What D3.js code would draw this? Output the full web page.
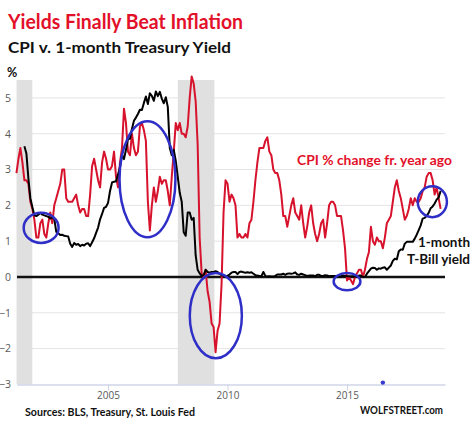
<!DOCTYPE html>
<html><head><meta charset="utf-8">
<script src="https://cdn.jsdelivr.net/npm/d3@7"></script>
<style>html,body{margin:0;padding:0;background:#fff;}svg{display:block;}</style>
</head><body>
<svg id="c" width="474" height="429"></svg>
<script>
// CPI YoY % change, monthly, Mar 2001 .. Dec 2018
const cpiStart = [2001, 3];
const cpiValues = [
  2.9,3.3,3.6,3.2,2.7,2.7,2.6,2.1,1.9,1.6,
  1.1,1.1,1.5,1.6,1.2,1.1,1.5,1.8,1.5,2.0,2.2,2.4,
  2.6,3.0,3.0,2.2,2.1,2.1,2.1,2.2,2.3,2.0,1.8,1.9,
  1.9,1.7,1.7,2.3,3.1,3.3,3.0,2.7,2.5,3.2,3.5,3.3,
  3.0,3.0,3.1,3.5,2.8,2.5,3.2,3.6,4.7,4.3,3.5,3.4,
  4.0,3.6,3.4,3.5,4.2,4.3,4.1,3.8,2.1,1.3,2.0,2.5,
  2.1,2.4,2.8,2.6,2.7,2.7,2.4,2.0,2.8,3.5,4.3,4.1,
  4.3,4.0,4.0,3.9,4.2,5.0,5.6,5.4,4.9,3.7,1.1,0.1,
  0.0,0.2,-0.4,-0.7,-1.3,-1.4,-2.1,-1.5,-1.3,-0.2,1.8,2.7,
  2.6,2.1,2.3,2.2,2.0,1.1,1.2,1.1,1.1,1.2,1.1,1.5,
  1.6,2.1,2.7,3.2,3.6,3.6,3.6,3.8,3.9,3.5,3.4,3.0,
  2.9,2.9,2.7,2.3,1.7,1.7,1.4,1.7,2.0,2.2,1.8,1.7,
  1.6,2.0,1.5,1.1,1.4,1.8,2.0,1.5,1.2,1.0,1.2,1.5,
  1.6,1.1,1.5,2.0,2.1,2.1,2.0,1.7,1.7,1.7,1.3,0.8,
  -0.1,0.0,-0.1,-0.2,0.0,0.1,0.2,0.2,0.0,0.2,0.5,0.7,
  1.4,1.0,0.9,1.1,1.0,1.0,0.8,1.1,1.5,1.6,1.7,2.1,
  2.5,2.7,2.4,2.2,1.9,1.6,1.7,1.9,2.2,2.0,2.2,2.1,
  2.1,2.2,2.4,2.5,2.8,2.9,2.9,2.7,2.3,2.5,2.2,1.9
];
// 1-month Treasury bill yield, monthly, Jul 2001 .. Dec 2018
const tbillStart = [2001, 7];
const tbillValues = [
  3.65,3.45,2.75,2.2,1.95,1.72,
  1.70,1.74,1.79,1.74,1.72,1.70,1.68,1.63,1.67,1.62,1.26,1.22,
  1.17,1.18,1.15,1.14,1.13,0.93,0.84,0.95,0.90,0.92,0.86,0.90,
  0.88,0.93,0.94,0.86,0.97,1.08,1.23,1.38,1.61,1.76,1.93,1.96,
  2.07,2.40,2.64,2.66,2.67,2.86,3.06,3.41,3.29,3.55,3.85,3.86,
  4.13,4.36,4.45,4.55,4.67,4.66,4.86,5.04,4.83,5.13,5.06,4.92,
  5.18,5.05,5.17,4.98,4.85,5.02,4.75,3.60,3.40,3.55,3.25,2.80,
  2.35,2.10,1.25,1.15,1.80,1.80,1.60,1.65,0.60,0.20,0.10,0.03,
  0.05,0.20,0.14,0.12,0.14,0.14,0.16,0.14,0.09,0.05,0.04,0.03,
  0.03,0.07,0.12,0.14,0.14,0.08,0.14,0.15,0.13,0.12,0.13,0.12,
  0.13,0.09,0.05,0.04,0.03,0.02,0.14,0.03,0.01,0.02,0.01,0.01,
  0.03,0.07,0.07,0.07,0.09,0.06,0.09,0.10,0.09,0.10,0.13,0.07,
  0.06,0.09,0.07,0.05,0.03,0.04,0.04,0.04,0.02,0.06,0.06,0.03,
  0.03,0.05,0.04,0.02,0.03,0.03,0.03,0.03,0.01,0.02,0.04,0.03,
  0.02,0.02,0.02,0.02,0.01,0.01,0.04,0.04,0.00,0.00,0.09,0.16,
  0.23,0.26,0.25,0.20,0.24,0.23,0.26,0.27,0.20,0.26,0.32,0.45,
  0.51,0.49,0.72,0.77,0.76,0.93,0.98,0.98,0.98,0.98,1.07,1.18,
  1.31,1.44,1.63,1.65,1.71,1.79,1.92,1.97,2.05,2.16,2.22,2.40
];
const recessions = [[2001.17, 2001.83], [2007.92, 2009.45]];
const yTicks = [-3,-2,-1,0,1,2,3,4,5];
const xTicks = [2005, 2010, 2015];
// highlighted zones: [center year, center value, half-width years, half-height value]
const circles = [
  [2002.2, 1.37, 0.73, 0.42],
  [2006.65, 2.73, 1.17, 1.62],
  [2009.51, -1.08, 1.09, 1.19],
  [2015.0, -0.13, 0.56, 0.24],
  [2018.57, 2.10, 0.61, 0.43]
];
const dot = [2016.5, -2.95];

const svg = d3.select("#c");
const x = d3.scaleLinear().domain([2001.19, 2019.1]).range([17, 445]);
const y = d3.scaleLinear().domain([-3, 5.5]).range([384.4, 80]);

function toSeries(start, vals){
  return vals.map((v,i)=>({t: start[0] + (start[1]-1+i)/12, v}));
}
const cpi = toSeries(cpiStart, cpiValues);
const tb = toSeries(tbillStart, tbillValues);

// gridlines
svg.append("g").selectAll("line").data(yTicks.filter(d=>d!==0 && d!==-3)).join("line")
  .attr("x1", x.range()[0]).attr("x2", x.range()[1])
  .attr("y1", d=>y(d)).attr("y2", d=>y(d))
  .attr("stroke", "#e4e4e4").attr("stroke-width", 1);

// recession bands
svg.append("g").selectAll("rect").data(recessions).join("rect")
  .attr("x", d=>x(d[0])).attr("width", d=>x(d[1])-x(d[0]))
  .attr("y", y(5.5)).attr("height", y(-3)-y(5.5))
  .attr("fill", "#e0e0e0");

// bottom axis
const xAxis = d3.axisBottom(x).tickValues(xTicks).tickFormat(d3.format("d")).tickSize(6).tickPadding(2).tickSizeOuter(0);
const gx = svg.append("g").attr("transform", `translate(0,${y(-3)})`).call(xAxis);
gx.select(".domain").attr("stroke", "#cfd5e8").attr("stroke-width", 1.5);
gx.selectAll(".tick line").attr("stroke", "#cfd5e8");
gx.selectAll(".tick text").attr("fill", "#595959").attr("font-family", "'Open Sans', sans-serif")
  .attr("font-size", 10);

// left axis labels
const yAxis = d3.axisLeft(y).tickValues(yTicks).tickFormat(d3.format("d")).tickSize(0).tickPadding(0);
const gy = svg.append("g").attr("transform", "translate(11,0)").call(yAxis);
gy.select(".domain").remove();
gy.selectAll(".tick text").attr("fill", "#595959").attr("font-family", "'Open Sans', sans-serif").attr("font-size", 10.5);

// zero line
svg.append("line").attr("x1", x.range()[0]).attr("x2", x.range()[1])
  .attr("y1", y(0)).attr("y2", y(0)).attr("stroke", "#111").attr("stroke-width", 2.5);

const line = d3.line().x(d=>x(d.t)).y(d=>y(d.v));
svg.append("path").datum(cpi).attr("d", line).attr("fill", "none")
  .attr("stroke", "#d7122c").attr("stroke-width", 2).attr("stroke-linejoin", "round");
svg.append("path").datum(tb).attr("d", line).attr("fill", "none")
  .attr("stroke", "#000").attr("stroke-width", 2).attr("stroke-linejoin", "round");

// highlight ellipses
svg.append("g").selectAll("ellipse").data(circles).join("ellipse")
  .attr("cx", d=>x(d[0])).attr("cy", d=>y(d[1]))
  .attr("rx", d=>x(d[0]+d[2])-x(d[0])).attr("ry", d=>y(d[1]-d[3])-y(d[1]))
  .attr("fill", "none").attr("stroke", "#2f2fc8").attr("stroke-width", 2.5);
svg.append("circle").attr("cx", x(dot[0])).attr("cy", y(dot[1])).attr("r", 2.2).attr("fill", "#3a3ad0");

// texts
const F = "Lato, 'Open Sans', sans-serif";
function txt(s, px, py, size, color, weight, len, anchor){
  const t = svg.append("text").text(s).attr("x", px).attr("y", py)
    .attr("font-family", F).attr("font-size", size).attr("fill", color).attr("font-weight", weight);
  if (len) t.attr("textLength", len).attr("lengthAdjust", "spacingAndGlyphs");
  if (anchor) t.attr("text-anchor", anchor);
  return t;
}
txt("Yields Finally Beat Inflation", 8, 29, 20, "#e3102a", 700, 235);
txt("CPI v. 1-month Treasury Yield", 8, 53, 16, "#111", 700, 223);
txt("%", 7, 77, 12.5, "#111", 700);
txt("CPI % change fr. year ago", 297, 165, 13, "#e3102a", 700, 155);
txt("1-month", 418, 247, 13.5, "#111", 700, 52);
txt("T-Bill yield", 407, 264, 13.5, "#111", 700, 63);
txt("Sources: BLS, Treasury, St. Louis Fed", 25, 416, 11, "#111", 700, 170);
txt("WOLFSTREET.com", 360, 414, 11, "#111", 700, 83);
</script>
</body></html>
